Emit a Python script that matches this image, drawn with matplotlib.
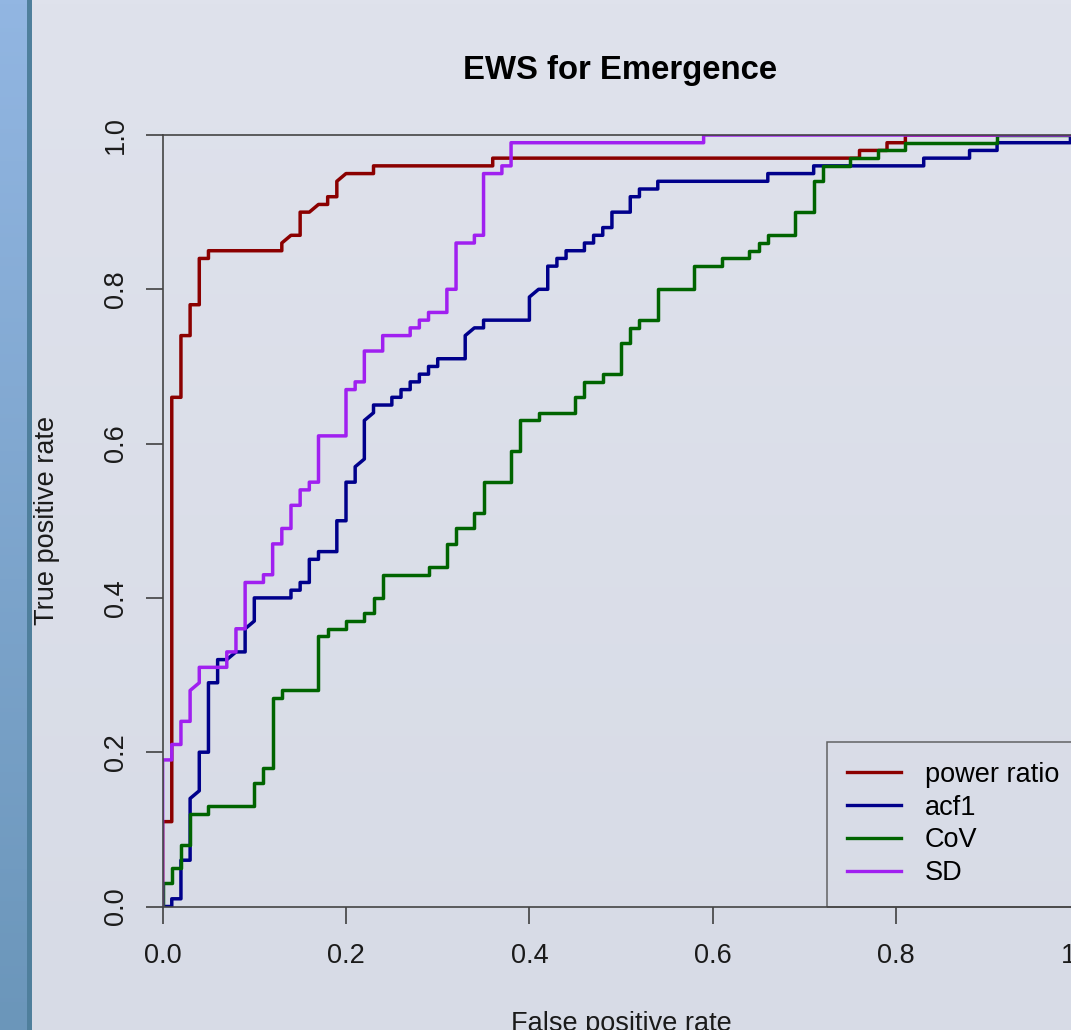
import numpy as np
import matplotlib.pyplot as plt
from matplotlib.colors import LinearSegmentedColormap
from matplotlib.patches import Rectangle

plt.rcParams['font.family'] = ['Liberation Sans', 'DejaVu Sans']

# ROC curve corner points (false positive rate, true positive rate)
pr_fpr = [0, 0, 0.01, 0.01, 0.02, 0.02, 0.03, 0.03, 0.04, 0.04, 0.05, 0.05, 0.13, 0.13,
          0.14, 0.15, 0.15, 0.16, 0.17, 0.18, 0.18, 0.19, 0.19, 0.20, 0.23, 0.23, 0.36,
          0.36, 0.76, 0.76, 0.79, 0.79, 0.81, 0.81, 1.0]
pr_tpr = [0, 0.11, 0.11, 0.66, 0.66, 0.74, 0.74, 0.78, 0.78, 0.84, 0.84, 0.85, 0.85, 0.86,
          0.87, 0.87, 0.90, 0.90, 0.91, 0.91, 0.92, 0.92, 0.94, 0.95, 0.95, 0.96, 0.96,
          0.97, 0.97, 0.98, 0.98, 0.99, 0.99, 1.0, 1.0]

acf_fpr = [0, 0.01, 0.01, 0.02, 0.02, 0.03, 0.03, 0.04, 0.04, 0.05, 0.05, 0.06, 0.06, 0.07,
           0.07, 0.08, 0.09, 0.09, 0.10, 0.10, 0.14, 0.14, 0.15, 0.15, 0.16, 0.16, 0.17,
           0.17, 0.19, 0.19, 0.20, 0.20, 0.21, 0.21, 0.22, 0.22, 0.23, 0.23, 0.25, 0.25,
           0.26, 0.26, 0.27, 0.27, 0.28, 0.28, 0.29, 0.29, 0.30, 0.30, 0.33, 0.33, 0.34,
           0.35, 0.35, 0.40, 0.40, 0.41, 0.42, 0.42, 0.43, 0.43, 0.44, 0.44, 0.46, 0.46,
           0.47, 0.47, 0.48, 0.48, 0.49, 0.49, 0.51, 0.51, 0.52, 0.52, 0.54, 0.54, 0.66,
           0.66, 0.71, 0.71, 0.83, 0.83, 0.88, 0.88, 0.91, 0.91, 0.99, 0.99, 1.0]
acf_tpr = [0, 0, 0.01, 0.01, 0.06, 0.06, 0.14, 0.15, 0.20, 0.20, 0.29, 0.29, 0.32, 0.32,
           0.32, 0.33, 0.33, 0.36, 0.37, 0.40, 0.40, 0.41, 0.41, 0.42, 0.42, 0.45, 0.45,
           0.46, 0.46, 0.50, 0.50, 0.55, 0.55, 0.57, 0.58, 0.63, 0.64, 0.65, 0.65, 0.66,
           0.66, 0.67, 0.67, 0.68, 0.68, 0.69, 0.69, 0.70, 0.70, 0.71, 0.71, 0.74, 0.75,
           0.75, 0.76, 0.76, 0.79, 0.80, 0.80, 0.83, 0.83, 0.84, 0.84, 0.85, 0.85, 0.86,
           0.86, 0.87, 0.87, 0.88, 0.88, 0.90, 0.90, 0.92, 0.92, 0.93, 0.93, 0.94, 0.94,
           0.95, 0.95, 0.96, 0.96, 0.97, 0.97, 0.98, 0.98, 0.99, 0.99, 1.0, 1.0]

cov_fpr = [0, 0, 0.01, 0.01, 0.02, 0.02, 0.03, 0.03, 0.05, 0.05, 0.10, 0.10, 0.11, 0.11,
           0.12, 0.12, 0.13, 0.13, 0.17, 0.17, 0.18, 0.18, 0.20, 0.20, 0.22, 0.22, 0.23,
           0.23, 0.24, 0.24, 0.29, 0.29, 0.31, 0.31, 0.32, 0.32, 0.34, 0.34, 0.35, 0.35,
           0.38, 0.38, 0.39, 0.39, 0.41, 0.41, 0.45, 0.45, 0.46, 0.46, 0.48, 0.48, 0.50,
           0.50, 0.51, 0.51, 0.52, 0.52, 0.54, 0.54, 0.58, 0.58, 0.61, 0.61, 0.64, 0.64,
           0.65, 0.65, 0.66, 0.66, 0.69, 0.69, 0.71, 0.71, 0.72, 0.72, 0.75, 0.75, 0.78,
           0.78, 0.81, 0.81, 0.91, 0.91, 1.0]
cov_tpr = [0, 0.03, 0.03, 0.05, 0.05, 0.08, 0.08, 0.12, 0.12, 0.13, 0.13, 0.16, 0.16, 0.18,
           0.18, 0.27, 0.27, 0.28, 0.28, 0.35, 0.35, 0.36, 0.36, 0.37, 0.37, 0.38, 0.38,
           0.40, 0.40, 0.43, 0.43, 0.44, 0.44, 0.47, 0.47, 0.49, 0.49, 0.51, 0.51, 0.55,
           0.55, 0.59, 0.59, 0.63, 0.63, 0.64, 0.64, 0.66, 0.66, 0.68, 0.68, 0.69, 0.69,
           0.73, 0.73, 0.75, 0.75, 0.76, 0.76, 0.80, 0.80, 0.83, 0.83, 0.84, 0.84, 0.85,
           0.85, 0.86, 0.86, 0.87, 0.87, 0.90, 0.90, 0.94, 0.94, 0.96, 0.96, 0.97, 0.97,
           0.98, 0.98, 0.99, 0.99, 1.0, 1.0]

sd_fpr = [0, 0, 0.01, 0.01, 0.02, 0.02, 0.03, 0.03, 0.04, 0.04, 0.07, 0.07, 0.08, 0.08,
          0.09, 0.09, 0.11, 0.11, 0.12, 0.12, 0.13, 0.13, 0.14, 0.14, 0.15, 0.15, 0.16,
          0.16, 0.17, 0.17, 0.20, 0.20, 0.21, 0.21, 0.22, 0.22, 0.24, 0.24, 0.27, 0.27,
          0.28, 0.28, 0.29, 0.29, 0.31, 0.31, 0.32, 0.32, 0.34, 0.34, 0.35, 0.35, 0.37,
          0.37, 0.38, 0.38, 0.59, 0.59, 1.0]
sd_tpr = [0, 0.19, 0.19, 0.21, 0.21, 0.24, 0.24, 0.28, 0.29, 0.31, 0.31, 0.33, 0.33, 0.36,
          0.36, 0.42, 0.42, 0.43, 0.43, 0.47, 0.47, 0.49, 0.49, 0.52, 0.52, 0.54, 0.54,
          0.55, 0.55, 0.61, 0.61, 0.67, 0.67, 0.68, 0.68, 0.72, 0.72, 0.74, 0.74, 0.75,
          0.75, 0.76, 0.76, 0.77, 0.77, 0.80, 0.80, 0.86, 0.86, 0.87, 0.87, 0.95, 0.95,
          0.96, 0.96, 0.99, 0.99, 1.0, 1.0]

labels = ['power ratio', 'acf1', 'CoV', 'SD']
colors = ['#8b0000', '#00008b', '#006400', '#a020f0']

W, H = 1071, 1030
fig = plt.figure(figsize=(W / 100, H / 100), dpi=100)

# slide background with the blue band on the left
bg = fig.add_axes([0, 0, 1, 1], zorder=-5)
bg.set_xlim(0, W)
bg.set_ylim(H, 0)
bg.axis('off')
grad = np.linspace(0, 1, 256).reshape(-1, 1)
bg.imshow(grad, cmap=LinearSegmentedColormap.from_list('bgc', ['#dfe2ec', '#d7dbe6']),
          extent=[0, W, H, 0], aspect='auto')
bg.imshow(grad, cmap=LinearSegmentedColormap.from_list('band', ['#92b6e2', '#6b96ba']),
          extent=[0, 27, H, 0], aspect='auto')
bg.add_patch(Rectangle((27, 0), 5, H, color='#4f7f9c', lw=0))

x0, x1 = 162.6, 1079.6
y0, y1 = 906.5, 135.0
ax = fig.add_axes([x0 / W, (H - y0) / H, (x1 - x0) / W, (y0 - y1) / H])
ax.set_facecolor('none')

ax.plot(pr_fpr, pr_tpr, color=colors[0], lw=2.5, label=labels[0])
ax.plot(acf_fpr, acf_tpr, color=colors[1], lw=2.5, label=labels[1])
ax.plot(cov_fpr, cov_tpr, color=colors[2], lw=2.5, label=labels[2])
ax.plot(sd_fpr, sd_tpr, color=colors[3], lw=2.5, label=labels[3])

ax.set_xlim(0, 1)
ax.set_ylim(0, 1)
ticks = [0, 0.2, 0.4, 0.6, 0.8, 1.0]
ax.set_xticks(ticks)
ax.set_yticks(ticks)
ax.set_xticklabels(['%.1f' % t for t in ticks])
ax.set_yticklabels(['%.1f' % t for t in ticks], rotation=90, va='center')
ax.tick_params(length=12, width=1.1, color='#333333', labelsize=19.5,
               labelcolor='#1a1a1a')
ax.tick_params(axis='x', pad=14)
ax.tick_params(axis='y', pad=12)
for side in ['left', 'bottom', 'top', 'right']:
    ax.spines[side].set_color('#444444')
    ax.spines[side].set_linewidth(1.2)

ax.set_xlabel('False positive rate', fontsize=19.5, color='#1a1a1a')
ax.xaxis.set_label_coords(0.5, -0.135)
ax.set_ylabel('True positive rate', fontsize=19.5, color='#1a1a1a', va='center')
ax.yaxis.set_label_coords(-0.126, 0.5)

fig.text(620 / W, 1 - 70 / H, 'EWS for Emergence', fontsize=23.7,
         fontweight='bold', ha='center', va='center')

leg = ax.legend(loc='lower right', fontsize=19.5, frameon=True, fancybox=False,
                borderaxespad=0, borderpad=0.75, handlelength=2.0,
                handletextpad=0.88, labelspacing=0.25)
leg.get_frame().set_edgecolor('#444444')
leg.get_frame().set_facecolor('none')
leg.get_frame().set_linewidth(1.1)
for line in leg.get_lines():
    line.set_linewidth(2.4)

plt.savefig('out.png', dpi=100)
